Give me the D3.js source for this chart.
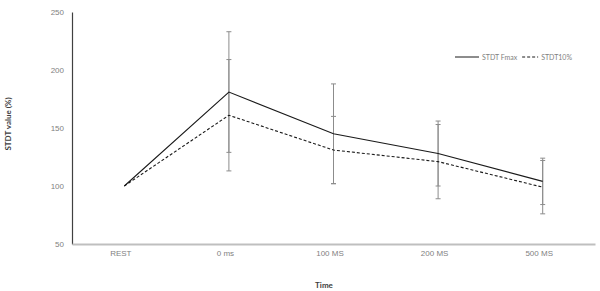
<!DOCTYPE html>
<html>
<head>
<meta charset="utf-8">
<script src="https://cdn.jsdelivr.net/npm/d3@7"></script>
<style>
  body { margin: 0; background: #fff; }
  svg { display: block; font-family: Lato, "Open Sans", sans-serif; }
</style>
</head>
<body>
<svg id="chart" width="600" height="291"></svg>
<script>
const categories = ['REST', '0 ms', '100 MS', '200 MS', '500 MS'];
const fmaxValues = [100, 181, 145, 128, 104];
const fmaxErrors = [0, 52, 43, 28, 20];
const stdt10Values = [100, 161, 131, 121, 99];
const stdt10Errors = [0, 48, 29, 32, 23];
const yTicks = [50, 100, 150, 200, 250];

const svg = d3.select('#chart');
const margin = {left: 72, right: 5, top: 12, bottom: 47};
const width = 600, height = 291;

const x = d3.scalePoint()
    .domain(categories)
    .range([margin.left, width - margin.right])
    .padding(0.5);
const y = d3.scaleLinear()
    .domain([50, 250])
    .range([height - margin.bottom, margin.top]);

// y axis
const yAxis = svg.append('g')
    .attr('transform', `translate(${margin.left},0)`)
    .call(d3.axisLeft(y).tickValues(yTicks).tickSize(0).tickPadding(8));
yAxis.select('.domain').attr('stroke', '#404040').attr('stroke-width', 1.2);
yAxis.selectAll('text').attr('fill', '#7f7f7f').style('font-size', '8px');

// x axis
const xAxis = svg.append('g')
    .attr('transform', `translate(0,${y(50)})`)
    .call(d3.axisBottom(x).tickSize(0).tickPadding(6));
xAxis.select('.domain').attr('stroke', '#bfbfbf').attr('stroke-width', 2);
xAxis.selectAll('text').attr('fill', '#7f7f7f').style('font-size', '8px').attr('dx', -4);

// axis titles
svg.append('text')
    .attr('transform', `translate(11,124) rotate(-90)`)
    .attr('text-anchor', 'middle')
    .style('font-size', '8px').style('font-weight', 'bold').attr('fill', '#404040')
    .text('STDT value (%)');
svg.append('text')
    .attr('x', 324).attr('y', 288)
    .attr('text-anchor', 'middle')
    .style('font-size', '8px').style('font-weight', 'bold').attr('fill', '#404040')
    .text('Time');

const series = [
    {name: 'STDT Fmax', values: fmaxValues, errors: fmaxErrors, dash: null},
    {name: 'STDT10%', values: stdt10Values, errors: stdt10Errors, dash: '3,2'}
];

// error bars
series.forEach((s) => {
    const eg = svg.append('g').attr('stroke', '#8c8c8c').attr('stroke-width', 1);
    categories.forEach((c, i) => {
        if (!s.errors[i]) return;
        const cx = x(c);
        const lo = y(s.values[i] - s.errors[i]);
        const hi = y(s.values[i] + s.errors[i]);
        eg.append('line').attr('x1', cx).attr('x2', cx).attr('y1', lo).attr('y2', hi);
        eg.append('line').attr('x1', cx - 2.5).attr('x2', cx + 2.5).attr('y1', lo).attr('y2', lo);
        eg.append('line').attr('x1', cx - 2.5).attr('x2', cx + 2.5).attr('y1', hi).attr('y2', hi);
    });
});

// lines
const line = d3.line()
    .x((d, i) => x(categories[i]))
    .y((d) => y(d));
series.forEach((s) => {
    svg.append('path')
        .attr('d', line(s.values))
        .attr('fill', 'none')
        .attr('stroke', '#1a1a1a')
        .attr('stroke-width', 1.1)
        .attr('stroke-dasharray', s.dash);
});

// legend, laid out left to right
const legend = svg.append('g').style('font-size', '7px');
let lx = 455;
const lineLen = [24, 16];
series.forEach((s, i) => {
    legend.append('line')
        .attr('x1', lx).attr('x2', lx + lineLen[i]).attr('y1', 57).attr('y2', 57)
        .attr('stroke', '#1a1a1a').attr('stroke-width', 1)
        .attr('stroke-dasharray', s.dash);
    const t = legend.append('text')
        .attr('x', lx + lineLen[i] + 3).attr('y', 59.5)
        .attr('fill', '#7f7f7f')
        .text(s.name);
    lx += lineLen[i] + 3 + t.node().getComputedTextLength() + 5;
});
</script>
</body>
</html>
